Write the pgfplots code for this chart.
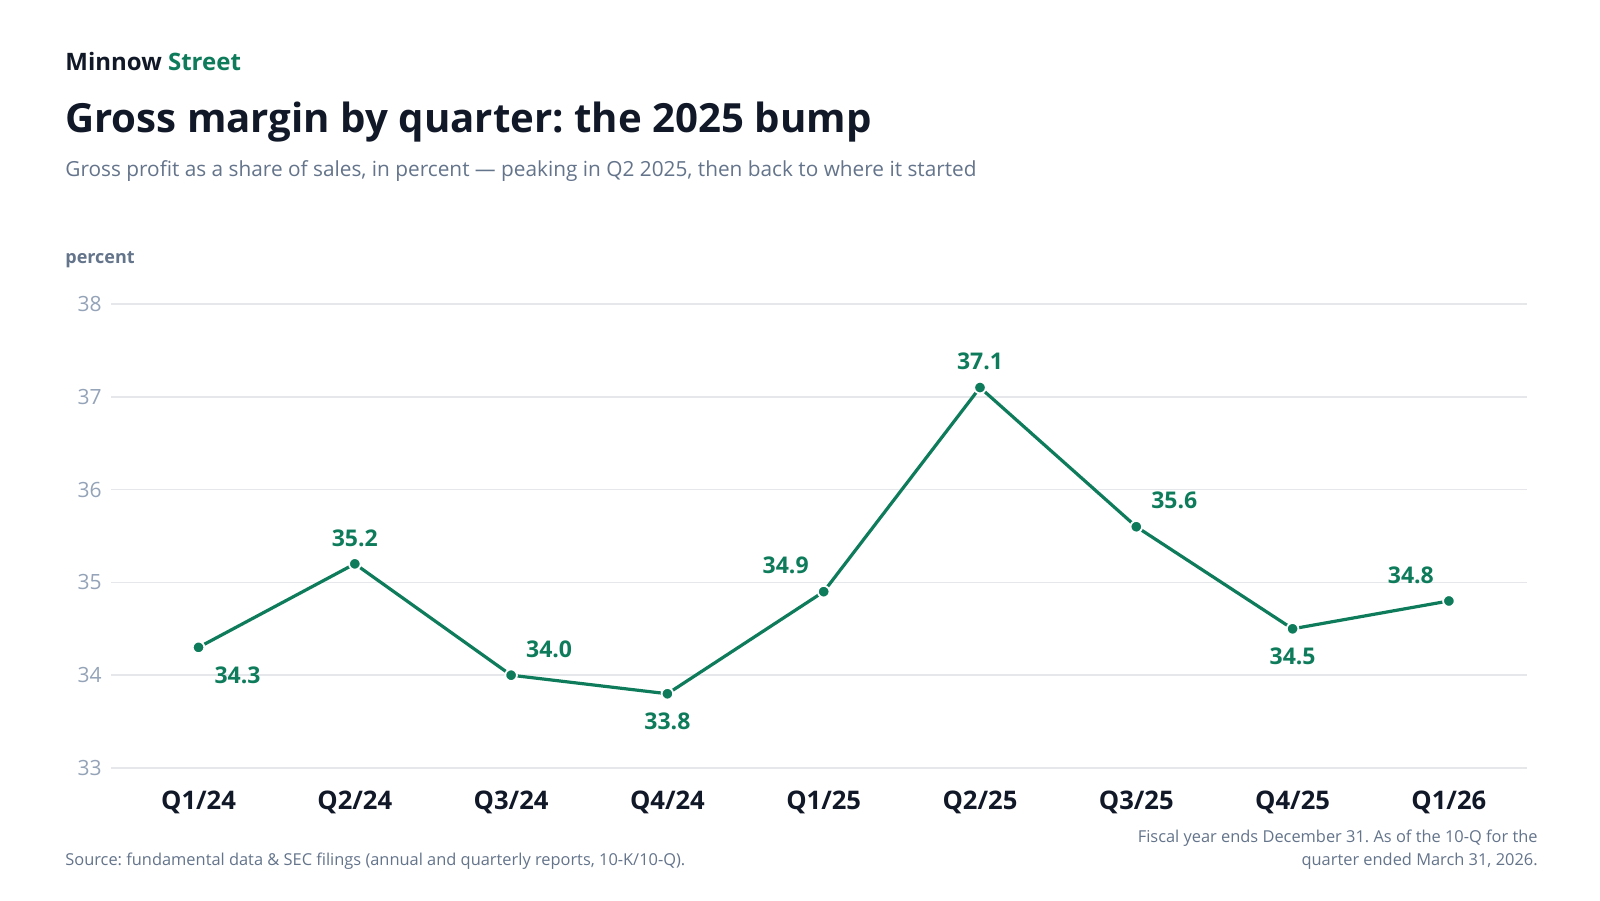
\documentclass[border=0pt]{standalone}
\usepackage{fontspec}
\setmainfont{Open Sans}
\usepackage{pgfplots}
\pgfplotsset{compat=1.18}
\definecolor{grn}{HTML}{0E7C5B}
\definecolor{ink}{HTML}{111827}
\definecolor{sub}{HTML}{64748B}
\definecolor{tickc}{HTML}{94A3B8}
\definecolor{gridc}{HTML}{E5E7EB}
\pgfplotstableread{
x y
0 34.3
1 35.2
2 34.0
3 33.8
4 34.9
5 37.1
6 35.6
7 34.5
8 34.8
}\datatab
\newcommand{\lblfont}{\fontsize{11.5}{13}\bfseries\selectfont}
\frenchspacing
\begin{document}
\frenchspacing
\begin{tikzpicture}[x=1pt,y=1pt]
\path[use as bounding box, fill=white] (0,0) rectangle (800,450);
\node[anchor=base west, inner sep=0pt, font=\fontsize{12}{14}\bfseries\selectfont] at (32.5,414.5) {\textcolor{ink}{Minnow} \textcolor{grn}{Street}};
\node[anchor=base west, inner sep=0pt, text=ink, font=\fontsize{20.1}{24}\bfseries\selectfont] at (32.5,383.5) {Gross margin by quarter: the 2025 bump};
\node[anchor=base west, inner sep=0pt, text=sub, font=\fontsize{10.4}{13}\selectfont] at (32.5,361.5) {Gross profit as a share of sales, in percent — peaking in Q2 2025, then back to where it started};
\node[anchor=base west, inner sep=0pt, text=sub, font=\fontsize{9}{11}\bfseries\selectfont] at (32.5,318) {percent};
\node[anchor=base west, inner sep=0pt, text=sub, font=\fontsize{8.2}{10}\selectfont] at (32.5,17.5) {Source: fundamental data \& SEC filings (annual and quarterly reports, 10-K/10-Q).};
\node[anchor=base east, inner sep=0pt, text=sub, font=\fontsize{8.2}{10}\selectfont] at (769,29) {Fiscal year ends December 31. As of the 10-Q for the};
\node[anchor=base east, inner sep=0pt, text=sub, font=\fontsize{8.2}{10}\selectfont] at (769,17.5) {quarter ended March 31, 2026.};
\begin{axis}[
  at={(55.5pt,66pt)}, anchor=south west,
  scale only axis, width=708pt, height=232pt,
  xmin=-0.56, xmax=8.5, ymin=33, ymax=38,
  ytick={33,34,35,36,37,38},
  xtick={0,1,2,3,4,5,6,7,8},
  xticklabels={Q1/24,Q2/24,Q3/24,Q4/24,Q1/25,Q2/25,Q3/25,Q4/25,Q1/26},
  axis line style={draw=none},
  tick style={draw=none},
  ymajorgrids,
  grid style={color=gridc, line width=0.75pt},
  /pgf/number format/assume math mode=true,
  yticklabel style={font=\fontsize{10.5}{12}\selectfont, text=tickc, anchor=east, inner sep=0pt, xshift=-4.5pt},
  xticklabel style={font=\fontsize{12.8}{15}\bfseries\selectfont, text=ink, anchor=base, inner sep=0pt, yshift=-20.5pt},
  clip=false,
  nodes near coords style={font=\lblfont, text=grn, anchor=center, inner sep=0pt,
    /pgf/number format/fixed, /pgf/number format/fixed zerofill, /pgf/number format/precision=1},
]
\addplot[color=grn, line width=1.6pt, mark=*, mark size=2.9pt, mark options={fill=grn, draw=white, line width=0.9pt}] table[x=x,y=y] {\datatab};
% labels below-right
\addplot[draw=none, mark=none, forget plot, nodes near coords, point meta=y, nodes near coords style={xshift=19.5pt, yshift=-14pt}] coordinates {(0,34.3)};
% labels above
\addplot[draw=none, mark=none, forget plot, nodes near coords, point meta=y, nodes near coords style={yshift=13pt}] coordinates {(1,35.2) (5,37.1)};
% labels above-right
\addplot[draw=none, mark=none, forget plot, nodes near coords, point meta=y, nodes near coords style={xshift=19pt, yshift=13pt}] coordinates {(2,34.0) (6,35.6)};
% labels below
\addplot[draw=none, mark=none, forget plot, nodes near coords, point meta=y, nodes near coords style={yshift=-14pt}] coordinates {(3,33.8) (7,34.5)};
% labels above-left
\addplot[draw=none, mark=none, forget plot, nodes near coords, point meta=y, nodes near coords style={xshift=-19pt, yshift=13pt}] coordinates {(4,34.9) (8,34.8)};
\end{axis}
\end{tikzpicture}
\end{document}
